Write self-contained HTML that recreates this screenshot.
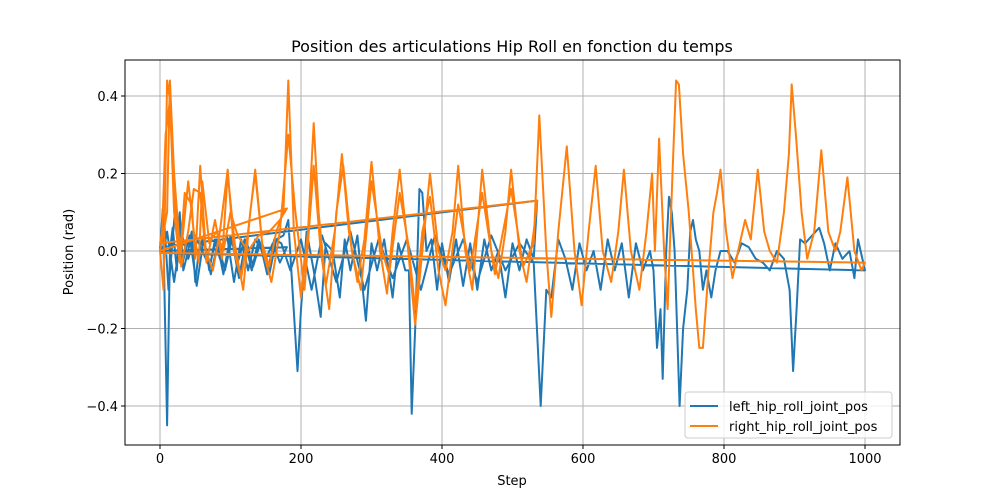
<!DOCTYPE html>
<html><head><meta charset="utf-8"><style>
body{margin:0;background:#fff;}
svg{display:block;font-family:"DejaVu Sans","Liberation Sans",sans-serif;}
</style></head><body>
<svg id="chart" width="1000" height="500" viewBox="0 0 1000 500">
<rect x="0" y="0" width="1000" height="500" fill="#fff"/>
<g id="grid"></g><g id="series"></g><g id="axes"></g>
</svg>
<script>
const xTicks=[0,200,400,600,800,1000];
const yTicks=[-0.4,-0.2,0.0,0.2,0.4];
const yTickLabels=["−0.4","−0.2","0.0","0.2","0.4"];
const seriesNames=["left_hip_roll_joint_pos","right_hip_roll_joint_pos"];
const leftSteps=[0,4,8,10,14,18,24,28,33,40,45,50,55,62,70,78,85,95,105,115,125,135,145,155,165,175,182,188,195,200,208,218,228,235,245,255,262,270,280,292,300,308,318,330,338,348,353,357,362,368,372,378,385,393,400,410,420,430,440,450,460,470,480,490,500,510,520,530,535,
0,5,10,20,30,40,50,60,70,80,90,100,110,120,130,140,150,160,170,180,
0,6,12,22,32,42,52,62,72,82,92,102,112,122,132,142,152,162,172,185,200,215,230,250,270,290,310,330,350,370,390,410,430,450,470,490,510,530,540,548,555,565,575,585,595,605,615,625,635,645,655,665,675,685,695,700,705,710,713,718,722,726,730,737,742,748,752,756,760,765,770,775,782,788,795,805,815,825,835,845,855,865,875,885,893,898,903,908,915,925,935,942,950,958,968,978,985,990,995,1000,0];
const leftVals=[0,0.11,-0.25,-0.45,0,0.06,-0.05,0.1,-0.05,0,0.05,-0.08,0,0.04,-0.05,0.03,-0.02,0.04,-0.08,0.03,-0.05,0.03,0,-0.06,0.03,0.04,0.08,-0.1,-0.31,-0.15,0.05,-0.05,-0.17,0.02,0,-0.12,0.03,-0.05,0.04,-0.18,0.02,-0.05,0.03,-0.12,0.02,-0.05,-0.05,-0.42,-0.2,0.16,0.15,0,0.03,-0.1,0.02,-0.08,0.03,-0.09,0.02,-0.1,0.03,-0.05,0,-0.12,0.02,-0.05,0.03,-0.02,0.13,
0.01,0,0.05,-0.08,0.05,-0.02,0.04,0,-0.04,0.03,-0.06,0.04,-0.03,0.03,-0.05,0.03,-0.02,0.02,-0.03,0.01,
0,0.08,-0.1,0.12,-0.03,0.04,-0.09,0.03,-0.06,0.02,-0.05,0.03,-0.07,0.03,-0.04,0.02,-0.06,0.03,0.02,-0.05,0.03,-0.1,0.04,-0.08,0.05,-0.1,0.03,-0.07,0.03,-0.1,0.04,-0.06,0.03,-0.08,0.04,-0.05,0.02,-0.03,-0.4,-0.1,-0.12,0.03,-0.02,-0.1,0.02,-0.05,0,-0.1,0.03,-0.05,0.02,-0.12,0.02,-0.05,0,-0.05,-0.25,-0.15,-0.33,0,0.14,0.1,0,-0.4,-0.2,-0.1,0.05,0.08,0.03,0,-0.1,-0.05,-0.12,-0.05,0,0,-0.03,0.02,0.01,-0.02,-0.03,-0.05,0,-0.02,-0.1,-0.31,-0.15,0.03,0.02,0.04,0.06,0.02,-0.05,0.02,-0.02,0,-0.07,0.03,-0.01,-0.05,-0.005];
const rightSteps=[0,5,10,14,20,28,35,45,50,57,65,75,85,96,105,115,125,135,145,155,165,175,182,190,200,210,218,225,235,248,258,268,280,290,300,312,322,330,340,352,362,372,383,395,405,415,423,433,443,450,457,470,480,490,498,510,520,530,535,
0,3,8,14,22,30,40,48,55,60,70,80,90,100,110,125,140,155,170,180,
0,10,14,20,30,40,48,57,66,78,88,96,106,118,128,135,146,158,170,182,192,205,218,228,240,250,260,272,285,300,315,325,340,352,362,372,383,395,405,423,440,457,475,498,515,530,538,548,555,565,577,588,598,608,618,628,640,650,658,668,680,690,698,702,708,715,720,727,732,736,742,750,760,765,770,778,785,790,795,803,812,820,830,838,848,857,865,875,885,892,896,902,910,918,928,938,948,958,965,975,985,995,1000,0];
const rightVals=[0,-0.1,0.44,0.39,0.1,-0.03,0.15,0.12,-0.02,0.22,0,-0.05,0.05,0.21,0,-0.07,0.05,0.21,0.02,-0.04,0.05,0.1,0.44,0.05,-0.12,0.05,0.33,0.1,-0.09,0.05,0.25,0.05,-0.08,0.03,0.23,0,-0.11,0.05,0.21,0,-0.19,0,0.2,0,-0.05,0.05,0.22,0,-0.1,0.05,0.21,0,-0.07,0.05,0.21,0,-0.08,0.05,0.13,
0.02,0.05,0.3,0.39,0.1,0,0.18,0.05,-0.03,0.18,0.02,0.05,0,0.1,0.04,0,0.04,0.05,0.08,0.11,
0,0.1,0.44,0.2,-0.04,0.05,0.16,0.15,-0.03,0.08,-0.02,0.2,0.02,-0.1,0.1,0.2,0,-0.08,0.05,0.3,0.1,-0.1,0.22,0,-0.15,0.1,0.22,0,-0.1,0.18,0,-0.06,0.15,0.02,-0.15,0.05,0.14,-0.05,-0.14,0.12,-0.05,0.15,-0.06,0.16,-0.04,0.02,0.35,0,-0.17,0.05,0.27,0,-0.14,0.05,0.22,0,-0.08,0.05,0.21,0,-0.1,0.05,0.2,0,0.29,0,-0.15,0.2,0.44,0.43,0.25,0.1,-0.15,-0.25,-0.25,-0.05,0.1,0.15,0.21,0.05,-0.07,0,0.08,0.03,0.21,0.05,0,-0.03,0.1,0.25,0.43,0.3,0.1,-0.02,0.05,0.26,0.05,0,0.05,0.19,0,-0.05,-0.03,-0.005];
const colors=["#1f77b4","#ff7f0e"];
const L=125,R=900,T=60,B=445;
const xs=v=>160+(v/1000)*705;
const ys=v=>251-v*387.5;
const NS="http://www.w3.org/2000/svg";
function mk(tag,attrs,parent){const e=document.createElementNS(NS,tag);for(const k in attrs)e.setAttribute(k,attrs[k]);parent.appendChild(e);return e;}
const grid=document.getElementById('grid'),ser=document.getElementById('series'),ax=document.getElementById('axes');
xTicks.forEach(t=>{const g=mk('line',{x1:xs(t),x2:xs(t),y1:T,y2:B,stroke:'#b0b0b0','stroke-width':1},grid);


const tk=mk('line',{x1:xs(t),x2:xs(t),y1:B,y2:B+4,stroke:'#000'},ax);


const tx=mk('text',{x:xs(t),y:B+18,'text-anchor':'middle','font-size':13},ax);tx.textContent=t;

});
yTicks.forEach((t,i)=>{const g=mk('line',{x1:L,x2:R,y1:ys(t),y2:ys(t),stroke:'#b0b0b0','stroke-width':1},grid);


const tk=mk('line',{x1:L-4,x2:L,y1:ys(t),y2:ys(t),stroke:'#000'},ax);


const tx=mk('text',{x:L-7,y:ys(t)+5,'text-anchor':'end','font-size':13},ax);tx.textContent=yTickLabels[i];

});
[[leftSteps,leftVals],[rightSteps,rightVals]].forEach((s,i)=>{
const pts=s[0].map((st,j)=>xs(st).toFixed(1)+','+ys(s[1][j]).toFixed(1)).join(' ');
const p=mk('polyline',{points:pts,fill:'none',stroke:colors[i],'stroke-width':2,'stroke-linejoin':'round'},ser);

});
const fr=mk('rect',{x:L,y:T,width:R-L,height:B-T,fill:'none',stroke:'#000','stroke-width':1},ax);


const ti=mk('text',{x:512,y:52,'text-anchor':'middle','font-size':16},ax);ti.textContent='Position des articulations Hip Roll en fonction du temps';


const xl=mk('text',{x:512,y:485,'text-anchor':'middle','font-size':13},ax);xl.textContent='Step';


const yl=mk('text',{x:73,y:252,'text-anchor':'middle','font-size':13,transform:'rotate(-90 73 252)'},ax);yl.textContent='Position (rad)';


const lg=mk('rect',{x:685,y:392,width:207,height:46,rx:3,fill:'#fff','fill-opacity':0.8,stroke:'#ccc'},ax);


seriesNames.forEach((n,i)=>{const y=405+i*20;
const ln=mk('line',{x1:690,x2:718,y1:y+1,y2:y+1,stroke:colors[i],'stroke-width':2},ax);


const t=mk('text',{x:729,y:y+6,'font-size':13},ax);t.textContent=n;

});
</script>
</body></html>
